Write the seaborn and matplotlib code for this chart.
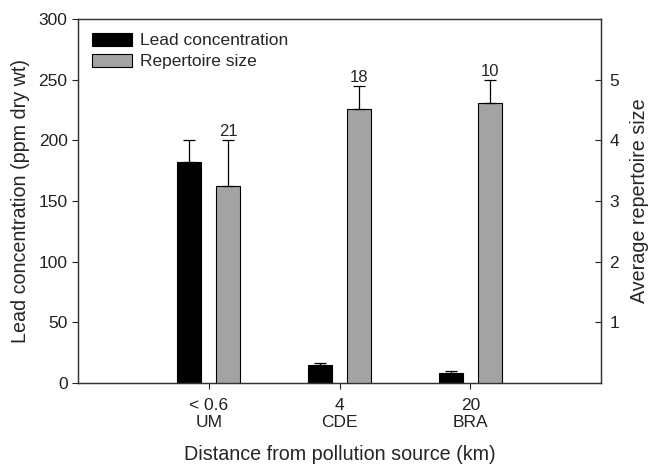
import matplotlib

matplotlib.use("Agg")

import matplotlib.pyplot as plt
import pandas as pd
import seaborn as sns
from matplotlib.patches import Patch

SITES = ["< 0.6\nUM", "4\nCDE", "20\nBRA"]
LEAD_MEAN = [182, 14.8, 8.5]
LEAD_SD = [18, 1.5, 1.0]
REPERTOIRE_MEAN = [3.25, 4.51, 4.61]
REPERTOIRE_SD = [0.76, 0.38, 0.39]
SAMPLE_SIZE = [21, 18, 10]

SERIES = ["Lead concentration", "Repertoire size"]
COLORS = {"Lead concentration": "black", "Repertoire size": "#a3a3a3"}
FONT = ["Liberation Sans", "DejaVu Sans"]


def build_frame(values, series):
    rows = []
    for site, value in zip(SITES, values):
        for name in SERIES:
            rows.append({"site": site, "series": name, "value": value if name == series else float("nan")})
    return pd.DataFrame(rows)


def draw_bars(ax, df, sds):
    sns.barplot(
        data=df, x="site", y="value", hue="series", hue_order=SERIES,
        order=SITES, palette=COLORS, width=0.6, gap=0.39, dodge=True,
        edgecolor="black", linewidth=0.8, errorbar=None, legend=False, ax=ax,
    )
    bars = [p for p in ax.patches if p.get_height() > 0]
    bars.sort(key=lambda p: p.get_x())
    for bar, sd in zip(bars, sds):
        xc = bar.get_x() + bar.get_width() / 2
        top = bar.get_height()
        ax.errorbar(xc, top, yerr=[[0], [sd]], fmt="none", ecolor="black",
                    elinewidth=0.9, capsize=4.5, capthick=0.9)
    return bars


def main() -> None:
    sns.set_theme(style="ticks")
    plt.rcParams["font.family"] = FONT

    fig = plt.figure(figsize=(6.5, 4.68), dpi=100)
    ax = fig.add_axes([0.12, 0.182, 0.805, 0.777])
    ax2 = ax.twinx()

    draw_bars(ax, build_frame(LEAD_MEAN, "Lead concentration"), LEAD_SD)
    rep_bars = draw_bars(ax2, build_frame(REPERTOIRE_MEAN, "Repertoire size"), REPERTOIRE_SD)

    for bar, sd, n in zip(rep_bars, REPERTOIRE_SD, SAMPLE_SIZE):
        xc = bar.get_x() + bar.get_width() / 2
        ax2.text(xc, bar.get_height() + sd + 0.02, str(n), ha="center", va="bottom", fontsize=12)

    ax.set_xlim(-1, 3)
    ax.set_ylim(0, 300)
    ax2.set_ylim(0, 6)
    ax.set_yticks([0, 50, 100, 150, 200, 250, 300])
    ax2.set_yticks([1, 2, 3, 4, 5])

    ax.set_xlabel("Distance from pollution source (km)", fontsize=14.2, labelpad=11)
    ax.set_ylabel("Lead concentration (ppm dry wt)", fontsize=14.2, labelpad=6)
    ax2.set_ylabel("Average repertoire size", fontsize=14.2, labelpad=8)

    ax.tick_params(axis="both", direction="out", labelsize=12.5, length=4, width=0.8, colors="#222222")
    ax.tick_params(axis="x", pad=7)
    for label in ax.get_xticklabels():
        label.set_linespacing(1.15)
    ax2.tick_params(axis="y", direction="in", labelsize=12.5, length=4, width=0.8, pad=6, colors="#222222")

    for a in (ax, ax2):
        for spine in a.spines.values():
            spine.set_visible(True)
            spine.set_linewidth(0.9)
            spine.set_color("#333333")

    handles = [Patch(facecolor=COLORS[s], edgecolor="black", linewidth=0.8, label=s) for s in SERIES]
    ax2.legend(handles=handles, loc="upper left", frameon=False, fontsize=12.5,
               handlelength=2.3, handleheight=0.75, handletextpad=0.45,
               borderaxespad=0.4, labelspacing=0.32)

    fig.savefig("out.png", dpi=100)
    plt.close(fig)


if __name__ == "__main__":
    main()
